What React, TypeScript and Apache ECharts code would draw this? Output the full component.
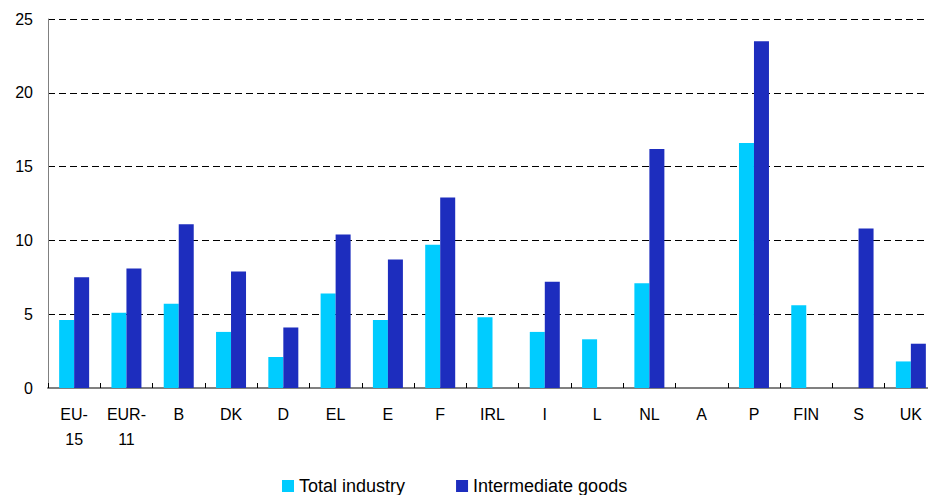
import React, { useEffect, useRef } from "react";
import * as echarts from "echarts";

const categories = ["EU-\n15", "EUR-\n11", "B", "DK", "D", "EL", "E", "F", "IRL", "I", "L", "NL", "A", "P", "FIN", "S", "UK"];
const totalIndustry = [4.6, 5.1, 5.7, 3.8, 2.1, 6.4, 4.6, 9.7, 4.8, 3.8, 3.3, 7.1, null, 16.6, 5.6, null, 1.8];
const intermediateGoods = [7.5, 8.1, 11.1, 7.9, 4.1, 10.4, 8.7, 12.9, null, 7.2, null, 16.2, null, 23.5, null, 10.8, 3.0];
const yTicks = { min: 0, max: 25, interval: 5 };

export default function App() {
  const ref = useRef<HTMLDivElement>(null);
  useEffect(() => {
    if (!ref.current) return;
    const chart = echarts.init(ref.current, undefined, { renderer: "svg" });
    chart.setOption({
      animation: false,
      backgroundColor: "#ffffff",
      grid: { left: 48, right: 0, top: 19, bottom: 107, containLabel: false },
      legend: {
        left: 282,
        top: 477,
        padding: 0,
        itemWidth: 12,
        itemHeight: 12,
        itemGap: 51,
        icon: "rect",
        textStyle: { fontFamily: "Liberation Sans, Arial, sans-serif", fontSize: 18, color: "#000" },
        data: ["Total industry", "Intermediate goods"],
      },
      xAxis: {
        type: "category",
        data: categories,
        boundaryGap: true,
        axisLine: { lineStyle: { color: "#808080", width: 2 } },
        axisTick: { show: true, inside: true, length: 5, lineStyle: { color: "#000", width: 1 } },
        axisLabel: {
          interval: 0,
          margin: 14,
          fontFamily: "Liberation Sans Narrow, Arial Narrow, Liberation Sans, sans-serif",
          fontSize: 16,
          lineHeight: 25,
          color: "#000",
        },
        splitLine: { show: false },
      },
      yAxis: {
        type: "value",
        min: yTicks.min,
        max: yTicks.max,
        interval: yTicks.interval,
        axisLine: { show: true, lineStyle: { color: "#808080", width: 1 } },
        axisTick: { show: false },
        axisLabel: {
          margin: 15,
          fontFamily: "Liberation Sans, Arial, sans-serif",
          fontSize: 16,
          color: "#000",
        },
        splitLine: { show: true, lineStyle: { color: "#000", width: 1, type: [7, 4] } },
      },
      series: [
        {
          name: "Total industry",
          type: "bar",
          data: totalIndustry,
          barWidth: 15,
          barGap: "0%",
          itemStyle: { color: "#00CCFF" },
        },
        {
          name: "Intermediate goods",
          type: "bar",
          data: intermediateGoods,
          barWidth: 15,
          barGap: "0%",
          itemStyle: { color: "#1D2DBE" },
        },
      ],
    });
    return () => chart.dispose();
  }, []);
  return (
    <div style={{ position: "fixed", left: 0, top: 0, width: 928, height: 495, overflow: "hidden" }}>
      <div ref={ref} style={{ position: "absolute", left: 0, top: 0, width: 937, height: 495 }} />
    </div>
  );
}
